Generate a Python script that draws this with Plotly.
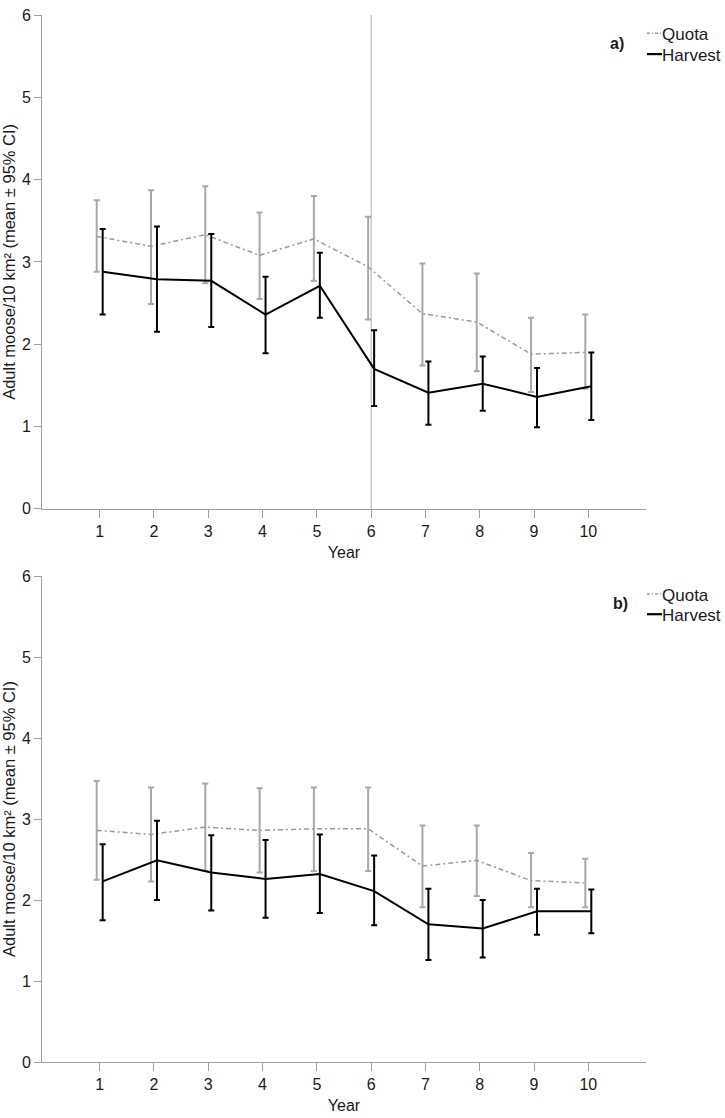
import plotly.graph_objects as go

years = [1, 2, 3, 4, 5, 6, 7, 8, 9, 10]
ref_year = 6

# Panel a)
a_quota_mean  = [3.31, 3.19, 3.33, 3.08, 3.28, 2.94, 2.37, 2.27, 1.88, 1.90]
a_quota_low   = [2.88, 2.49, 2.74, 2.55, 2.77, 2.30, 1.74, 1.67, 1.42, 1.46]
a_quota_high  = [3.75, 3.87, 3.92, 3.60, 3.80, 3.55, 2.98, 2.86, 2.32, 2.36]
a_harv_mean   = [2.88, 2.79, 2.77, 2.36, 2.71, 1.70, 1.41, 1.52, 1.36, 1.49]
a_harv_low    = [2.36, 2.15, 2.21, 1.89, 2.32, 1.25, 1.02, 1.19, 0.99, 1.08]
a_harv_high   = [3.40, 3.43, 3.34, 2.82, 3.11, 2.17, 1.79, 1.85, 1.71, 1.90]

# Panel b)
b_quota_mean  = [2.86, 2.81, 2.90, 2.86, 2.88, 2.88, 2.42, 2.49, 2.24, 2.21]
b_quota_low   = [2.25, 2.23, 2.36, 2.34, 2.36, 2.36, 1.91, 2.05, 1.91, 1.91]
b_quota_high  = [3.47, 3.39, 3.44, 3.38, 3.39, 3.39, 2.92, 2.92, 2.58, 2.51]
b_harv_mean   = [2.23, 2.49, 2.34, 2.26, 2.32, 2.11, 1.70, 1.65, 1.86, 1.86]
b_harv_low    = [1.75, 2.00, 1.87, 1.78, 1.84, 1.69, 1.26, 1.29, 1.57, 1.59]
b_harv_high   = [2.69, 2.98, 2.80, 2.74, 2.81, 2.55, 2.14, 2.00, 2.14, 2.13]

series_names = ["Quota", "Harvest"]
panel_labels = ["a)", "b)"]
x_ticks = years
y_ticks = [0, 1, 2, 3, 4, 5, 6]
x_title = "Year"
y_title = "Adult moose/10 km² (mean ± 95% CI)"

FONT = "Liberation Sans, Arial, sans-serif"
TXT = "#1a1a1a"
GRAY_LINE = "#9a9a9a"
GRAY_ERR = "#a8a8a8"
AXIS_GRAY = "#a0a0a0"
OFF = 0.055
QUOTA_DASH = "5px,3px,2px,3px"

W, H = 725, 1118
ML, MR, MT, MB = 42, 79, 7, 53
PW, PH = W - ML - MR, H - MT - MB


def px_x(px):
    return (px - ML) / PW


def px_y(py):
    return (H - MB - py) / PH


fig = go.Figure()


def add_panel(xa, ya, q_mean, q_low, q_high, h_mean, h_low, h_high):
    fig.add_trace(go.Scatter(
        x=[y - OFF for y in years], y=q_mean, mode="lines", name=series_names[0],
        line=dict(color=GRAY_LINE, width=1.5, dash=QUOTA_DASH),
        error_y=dict(type="data", symmetric=False,
                     array=[h - m for h, m in zip(q_high, q_mean)],
                     arrayminus=[m - l for m, l in zip(q_mean, q_low)],
                     color=GRAY_ERR, thickness=2, width=3),
        xaxis=xa, yaxis=ya, showlegend=False, hoverinfo="skip"))
    fig.add_trace(go.Scatter(
        x=[y + OFF for y in years], y=h_mean, mode="lines", name=series_names[1],
        line=dict(color="#000000", width=2),
        error_y=dict(type="data", symmetric=False,
                     array=[h - m for h, m in zip(h_high, h_mean)],
                     arrayminus=[m - l for m, l in zip(h_mean, h_low)],
                     color="#000000", thickness=2, width=3),
        xaxis=xa, yaxis=ya, showlegend=False, hoverinfo="skip"))


add_panel("x", "y", a_quota_mean, a_quota_low, a_quota_high,
          a_harv_mean, a_harv_low, a_harv_high)
add_panel("x2", "y2", b_quota_mean, b_quota_low, b_quota_high,
          b_harv_mean, b_harv_low, b_harv_high)

xcommon = dict(range=[-0.0625, 11.0625], tickmode="array", tickvals=x_ticks,
               ticktext=[str(t) for t in x_ticks],
               showline=True, linecolor=AXIS_GRAY, linewidth=1,
               ticks="outside", ticklen=8, tickcolor=AXIS_GRAY, tickwidth=1,
               showgrid=False, zeroline=False,
               tickfont=dict(family=FONT, size=16, color=TXT),
               title=dict(text=x_title, standoff=7,
                          font=dict(family=FONT, size=16, color=TXT)))
ycommon = dict(range=[0, 6], tickmode="array", tickvals=y_ticks,
               showline=True, linecolor=AXIS_GRAY, linewidth=1,
               ticks="outside", ticklen=7, tickcolor=AXIS_GRAY, tickwidth=1,
               showgrid=False, zeroline=False,
               tickfont=dict(family=FONT, size=16, color=TXT),
               title=dict(text=y_title, standoff=2,
                          font=dict(family=FONT, size=16.5, color=TXT)))

shapes = [dict(type="line", xref="x", yref="y", x0=ref_year, x1=ref_year,
               y0=0, y1=6, line=dict(color="#b0b0b0", width=1), layer="below")]
annotations = []

# panel labels and legends (positions in px of the page)
legend_pos = [  # (label x, label y, quota y, harvest y)
    (617, 36, 27, 48),
    (620, 602, 593.5, 614),
]
for lab, (lx, ly, qy, hy) in zip(panel_labels, legend_pos):
    annotations.append(dict(text="<b>" + lab + "</b>", xref="paper", yref="paper",
                            x=px_x(lx), y=px_y(ly), xanchor="center", yanchor="middle",
                            showarrow=False, font=dict(family=FONT, size=16, color=TXT)))
    for name, ty, col, wd, dash in [
        (series_names[0], qy, GRAY_LINE, 1.5, "3px,2px,1px,2px"),
        (series_names[1], hy, "#000000", 2.2, "solid"),
    ]:
        shapes.append(dict(type="line", xref="paper", yref="paper",
                           x0=px_x(647), x1=px_x(662), y0=px_y(ty - 1.5), y1=px_y(ty - 1.5),
                           line=dict(color=col, width=wd, dash=dash)))
        annotations.append(dict(text=name, xref="paper", yref="paper",
                                x=px_x(662), y=px_y(ty), xanchor="left", yanchor="middle",
                                showarrow=False, xshift=-2,
                                font=dict(family=FONT, size=17, color=TXT)))

fig.update_layout(
    width=W, height=H,
    margin=dict(l=ML, r=MR, t=MT, b=MB),
    paper_bgcolor="white", plot_bgcolor="white",
    xaxis=dict(domain=[0, 1], anchor="y", **xcommon),
    yaxis=dict(domain=[px_y(506), 1.0], anchor="x", **ycommon),
    xaxis2=dict(domain=[0, 1], anchor="y2", **xcommon),
    yaxis2=dict(domain=[0.0, px_y(574)], anchor="x2", **ycommon),
    showlegend=False,
    shapes=shapes,
    annotations=annotations,
)

fig.write_html("out.html", config={"displayModeBar": False},
               post_script="document.body.style.margin='0';document.body.style.overflow='hidden';")
